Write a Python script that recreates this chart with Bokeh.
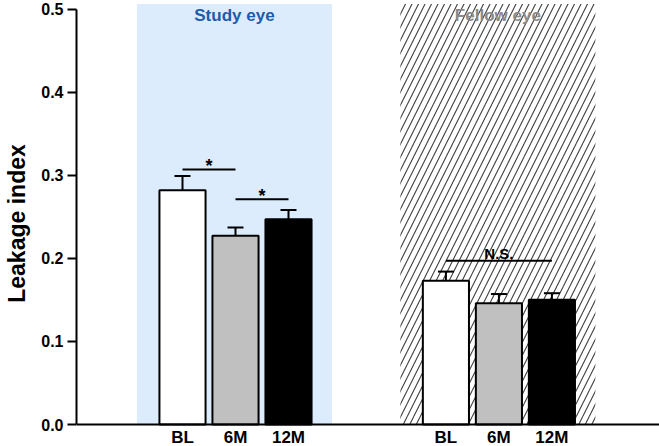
from bokeh.plotting import figure
from bokeh.models import (ColumnDataSource, FixedTicker, Whisker, TeeHead, Range1d,
                          LinearAxis, Span, PrintfTickFormatter)
from bokeh.core.properties import value
from bokeh.embed import file_html
from bokeh.resources import INLINE

# ---- data ----
groups = ["Study eye", "Fellow eye"]
timepoints = ["BL", "6M", "12M"]
study_mean = [0.282, 0.227, 0.247]
study_err = [0.017, 0.010, 0.011]
fellow_mean = [0.173, 0.146, 0.150]
fellow_err = [0.011, 0.011, 0.008]
bar_colors = ["white", "#c0c0c0", "black"]
yticks = [0.0, 0.1, 0.2, 0.3, 0.4, 0.5]
# significance: (group index, from bar, to bar, y, label)
sig_group = [0, 0, 1]
sig_from = [0, 1, 0]
sig_to = [1, 2, 2]
sig_y = [0.307, 0.271, 0.197]
sig_label = ["*", "*", "N.S."]

# ---- layout constants ----
GROUP_OFFSET = 4.97
FONT = "Liberation Sans"
X_START, X_END = -2.0, 9.0
Y_START = -0.02647
Y_END = 0.51023
REGION_TOP = 0.506

p = figure(width=659, height=446, output_backend="svg", toolbar_location=None,
           x_range=Range1d(X_START, X_END), y_range=Range1d(Y_START, Y_END),
           min_border_left=76, min_border_right=0, min_border_top=0, min_border_bottom=0,
           y_axis_location=None, x_axis_location=None)
p.outline_line_color = None
p.grid.visible = False
p.background_fill_color = "white"

# background regions
gx = [g * GROUP_OFFSET for g in range(len(groups))]
p.quad(left=[gx[0] - 0.86], right=[gx[0] + 2.82], bottom=[0], top=[REGION_TOP],
       fill_color="#ddecfc", line_color=None)
p.quad(left=[gx[1] - 0.86], right=[gx[1] + 2.82], bottom=[0], top=[REGION_TOP],
       fill_color="white", line_color=None, hatch_pattern="/", hatch_color="#404040",
       hatch_scale=13, hatch_weight=1.1)

p.text(x=[gx[0] + 0.98], y=[0.492], text=[groups[0]], text_font=value(FONT),
       text_font_style="bold", text_font_size="17px", text_color="#1d5bab",
       text_align="center", text_baseline="middle")
p.text(x=[gx[1] + 0.98], y=[0.492], text=[groups[1]], text_font=value(FONT),
       text_font_style="bold", text_font_size="17px", text_color="#8a8a8a",
       text_align="center", text_baseline="middle")

# bars
xs, means, errs, cols, labs = [], [], [], [], []
for g, (m, e) in enumerate([(study_mean, study_err), (fellow_mean, fellow_err)]):
    for i in range(len(timepoints)):
        xs.append(gx[g] + i)
        means.append(m[i])
        errs.append(e[i])
        cols.append(bar_colors[i])
        labs.append(timepoints[i])
src = ColumnDataSource(dict(x=xs, top=means, upper=[m + e for m, e in zip(means, errs)],
                            color=cols, lab=labs, zero=[0] * len(xs)))
p.vbar(x="x", top="top", width=0.87, bottom=0, fill_color="color",
       line_color="black", line_width=2, source=src)
w = Whisker(source=src, base="x", upper="upper", lower="top",
            upper_head=TeeHead(size=16, line_width=2, line_color="black"),
            lower_head=None, line_width=2, line_color="black", level="glyph")
p.add_layout(w)

# x axis line and category labels
p.add_layout(Span(location=0, dimension="width", line_color="black", line_width=2))
p.text(x="x", y="zero", text="lab", source=src, text_font=value(FONT),
       text_font_style="bold", text_font_size="17px", text_color="black",
       text_align="center", text_baseline="top", y_offset=3)

# significance brackets
x0s, x1s, txs = [], [], []
for g, a, b in zip(sig_group, sig_from, sig_to):
    x0s.append(gx[g] + a)
    x1s.append(gx[g] + b)
    txs.append(gx[g] + (a + b) / 2)
p.segment(x0=x0s, x1=x1s, y0=sig_y, y1=sig_y, line_color="black", line_width=2)
star_idx = [i for i, s in enumerate(sig_label) if s == "*"]
ns_idx = [i for i, s in enumerate(sig_label) if s != "*"]
p.text(x=[txs[i] for i in star_idx], y=[sig_y[i] for i in star_idx],
       text=[sig_label[i] for i in star_idx], text_font=value(FONT), text_font_style="bold",
       text_font_size="18px", text_align="center", text_baseline="alphabetic",
       text_color="black", y_offset=-3)
p.text(x=[txs[i] for i in ns_idx], y=[sig_y[i] for i in ns_idx],
       text=[sig_label[i] for i in ns_idx], text_font=value(FONT), text_font_style="bold",
       text_font_size="15px", text_align="center", text_baseline="alphabetic",
       text_color="black", y_offset=-7)

# y axis
ya = LinearAxis(ticker=FixedTicker(ticks=yticks), bounds=(0, 0.5),
                formatter=PrintfTickFormatter(format="%.1f"))
ya.axis_label = "Leakage index"
ya.axis_label_text_font = FONT
ya.axis_label_text_font_style = "bold"
ya.axis_label_text_font_size = "23px"
ya.axis_label_text_color = "black"
ya.axis_label_standoff = 8
ya.axis_line_width = 2
ya.axis_line_color = "black"
ya.major_tick_line_width = 2
ya.major_tick_out = 9
ya.major_tick_in = 0
ya.minor_tick_out = 0
ya.minor_tick_in = 0
ya.major_label_standoff = 4
ya.major_label_text_font = FONT
ya.major_label_text_font_style = "bold"
ya.major_label_text_font_size = "16px"
ya.major_label_text_color = "black"
p.add_layout(ya, "left")

open("out.html", "w").write(file_html(p, INLINE))
